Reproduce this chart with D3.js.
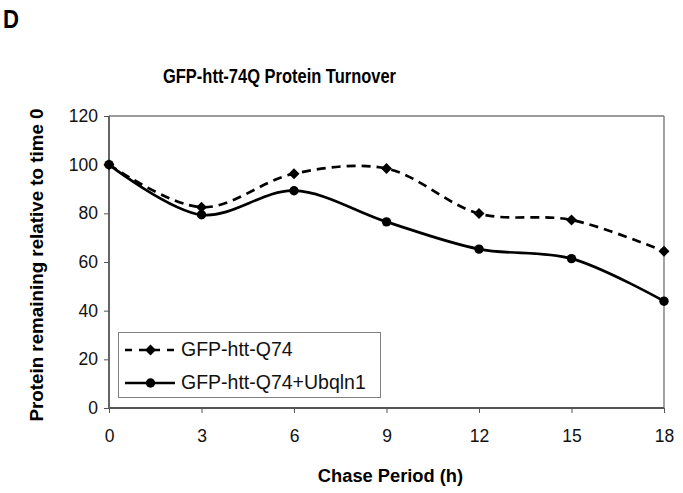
<!DOCTYPE html>
<html><head><meta charset="utf-8">
<script src="https://cdn.jsdelivr.net/npm/d3@7/dist/d3.min.js"></script>
<style>body{margin:0;background:#fff}text{font-family:"Liberation Sans",Arial,sans-serif}</style>
</head><body><svg id="c" width="683" height="493"></svg>
<script>
const hours = [0, 3, 6, 9, 12, 15, 18];
const q74 = [100, 82.5, 96.3, 98.4, 79.9, 77.3, 64.4];
const q74Ubqln1 = [100, 79.4, 89.3, 76.5, 65.3, 61.4, 43.9];
const yTicks = [0, 20, 40, 60, 80, 100, 120];
const seriesNames = ["GFP-htt-Q74", "GFP-htt-Q74+Ubqln1"];

const svg = d3.select("#c");
const L = 109, R = 664, T = 116, B = 408;
const x = d3.scaleLinear().domain([0, 18]).range([L, R]);
const y = d3.scaleLinear().domain([0, 120]).range([B, T]);

// title & panel letter
svg.append("text").attr("x", 3).attr("y", 28).attr("font-size", 25).attr("font-weight", "bold")
  .attr("textLength", 16).attr("lengthAdjust", "spacingAndGlyphs").text("D");
svg.append("text").attr("x", 279.5).attr("y", 82.5).attr("text-anchor", "middle").attr("font-size", 20.5).attr("font-weight", "bold")
  .attr("textLength", 233).attr("lengthAdjust", "spacingAndGlyphs").text("GFP-htt-74Q Protein Turnover");

// frame top/right
svg.append("line").attr("x1", L).attr("x2", R).attr("y1", T).attr("y2", T).attr("stroke", "#7a7a7a").attr("stroke-width", 1.4);
svg.append("line").attr("x1", R).attr("x2", R).attr("y1", T).attr("y2", B).attr("stroke", "#7a7a7a").attr("stroke-width", 1.4);

// axes
const xa = svg.append("g").attr("transform", `translate(0,${B})`)
  .call(d3.axisBottom(x).tickValues(hours).tickSize(5).tickPadding(17).tickFormat(d3.format("d")));
const ya = svg.append("g").attr("transform", `translate(${L},0)`)
  .call(d3.axisLeft(y).tickValues(yTicks).tickSize(5).tickPadding(6).tickFormat(d3.format("d")));
[xa, ya].forEach(a => {
  a.select(".domain").attr("stroke", "#555").attr("stroke-width", 1.8);
  a.selectAll(".tick line").attr("stroke", "#555").attr("stroke-width", 1);
  a.selectAll(".tick text").attr("font-size", 17.5).attr("fill", "#111").attr("font-family", "Liberation Sans, Arial, sans-serif");
});
xa.select(".domain").attr("d", `M${L},0H${R}`);
ya.select(".domain").attr("d", `M0,${T}V${B}`);

// axis titles
svg.append("text").attr("x", 390.5).attr("y", 482).attr("text-anchor", "middle").attr("font-size", 18.3).attr("font-weight", "bold").text("Chase Period (h)");
svg.append("text").attr("transform", "translate(42.5,265) rotate(-90)").attr("text-anchor", "middle").attr("font-size", 18.8).attr("font-weight", "bold").text("Protein remaining relative to time 0");

const line = d3.line().x((d, i) => x(hours[i])).y(d => y(d)).curve(d3.curveCatmullRom.alpha(0.5));

svg.append("path").attr("d", line(q74)).attr("fill", "none").attr("stroke", "#000").attr("stroke-width", 2.7).attr("stroke-dasharray", "9,6");
svg.append("path").attr("d", line(q74Ubqln1)).attr("fill", "none").attr("stroke", "#000").attr("stroke-width", 2.7);

const dmPath = "M0,-5.5L5.5,0L0,5.5L-5.5,0Z";
svg.selectAll(".dm").data(q74).join("path").attr("class", "dm")
  .attr("transform", (d, i) => `translate(${x(hours[i])},${y(d)})`).attr("d", dmPath).attr("fill", "#000");
svg.selectAll(".ci").data(q74Ubqln1).join("circle").attr("class", "ci")
  .attr("cx", (d, i) => x(hours[i])).attr("cy", d => y(d)).attr("r", 4.7).attr("fill", "#000");

// legend
const lg = svg.append("g");
lg.append("rect").attr("x", 118.5).attr("y", 332.5).attr("width", 262).attr("height", 65).attr("fill", "#fff").attr("stroke", "#808080").attr("stroke-width", 1);
const ly = [350, 383];
seriesNames.forEach((n, i) => {
  lg.append("line").attr("x1", 125).attr("x2", 175).attr("y1", ly[i]).attr("y2", ly[i]).attr("stroke", "#000").attr("stroke-width", 2.6)
    .attr("stroke-dasharray", i === 0 ? "7,7" : null);
  if (i === 0) lg.append("path").attr("transform", `translate(150.5,${ly[i]})`).attr("d", dmPath).attr("fill", "#000");
  else lg.append("circle").attr("cx", 150.5).attr("cy", ly[i]).attr("r", 4.7).attr("fill", "#000");
  lg.append("text").attr("x", 181).attr("y", ly[i] + 6).attr("font-size", 19.5).attr("fill", "#111").text(n);
});
</script></body></html>
